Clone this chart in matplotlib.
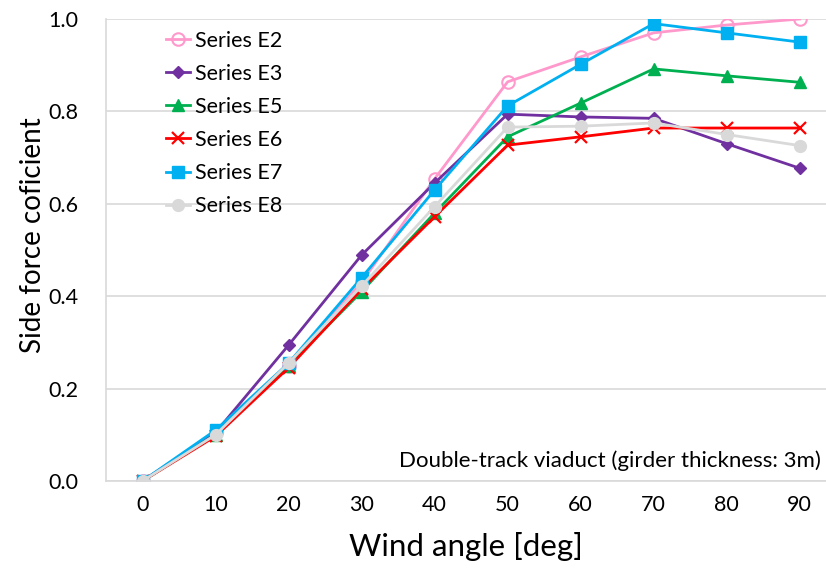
import matplotlib.pyplot as plt

plt.rcParams['font.family'] = ['Lato', 'DejaVu Sans']

angles = [0, 10, 20, 30, 40, 50, 60, 70, 80, 90]
series_names = ["Series E2", "Series E3", "Series E5", "Series E6", "Series E7", "Series E8"]
e2 = [0.0, 0.105, 0.25, 0.43, 0.654, 0.864, 0.918, 0.97, 0.987, 1.0]
e3 = [0.0, 0.105, 0.294, 0.489, 0.645, 0.794, 0.788, 0.785, 0.73, 0.677]
e5 = [0.0, 0.10, 0.25, 0.41, 0.58, 0.745, 0.818, 0.892, 0.877, 0.863]
e6 = [0.0, 0.097, 0.245, 0.415, 0.572, 0.727, 0.745, 0.764, 0.764, 0.764]
e7 = [0.0, 0.11, 0.255, 0.44, 0.63, 0.812, 0.902, 0.99, 0.97, 0.95]
e8 = [0.0, 0.10, 0.255, 0.422, 0.594, 0.766, 0.768, 0.775, 0.75, 0.726]
y_ticks = [0.0, 0.2, 0.4, 0.6, 0.8, 1.0]
note = "Double-track viaduct (girder thickness: 3m)"

fig = plt.figure(figsize=(8.26, 5.70), dpi=100)
ax = fig.add_axes([106 / 826, 89 / 570, 720 / 826, 462 / 570])

styles = [
    (e2, "#FF99CC", "o", dict(markerfacecolor="none", markersize=9, markeredgewidth=1.5)),
    (e3, "#7030A0", "D", dict(markersize=6.5)),
    (e5, "#00B050", "^", dict(markersize=8.5)),
    (e6, "#FF0000", "x", dict(markersize=9, markeredgewidth=1.6)),
    (e7, "#00B0F0", "s", dict(markersize=8)),
    (e8, "#D9D9D9", "o", dict(markersize=8.5)),
]
for (vals, col, mk, kw), name in zip(styles, series_names):
    ax.plot(angles, vals, color=col, marker=mk, linewidth=2, label=name, **kw)

ax.set_xlim(-5, 93.6)
ax.set_ylim(0, 1.0)
ax.set_xticks(angles)
ax.set_yticks(y_ticks)
ax.set_yticklabels([f"{v:.1f}" for v in y_ticks])
ax.tick_params(length=0, labelsize=15.5, colors="black")
ax.tick_params(axis="y", pad=20)
ax.tick_params(axis="x", pad=10)
ax.grid(axis="y", color="#D9D9D9", linewidth=1.2)
ax.set_axisbelow(True)
for s in ["top", "right"]:
    ax.spines[s].set_visible(False)
for s in ["left", "bottom"]:
    ax.spines[s].set_color("#D9D9D9")
    ax.spines[s].set_linewidth(1.2)

ax.set_xlabel("Wind angle [deg]", fontsize=22.5, labelpad=12)
ax.set_ylabel("Side force coficient", fontsize=20)
ax.yaxis.set_label_coords(-0.083, 0.532)

ax.text(0.993, 0.045, note, transform=ax.transAxes, ha="right", va="center", fontsize=16)

ax.legend(loc="upper left", bbox_to_anchor=(157 / 826, 1 - 22 / 570), bbox_transform=fig.transFigure,
          frameon=False, fontsize=15.5, handlelength=1.15, handletextpad=0.2, labelspacing=0.61,
          borderaxespad=0)

fig.savefig("out.png", dpi=100)
